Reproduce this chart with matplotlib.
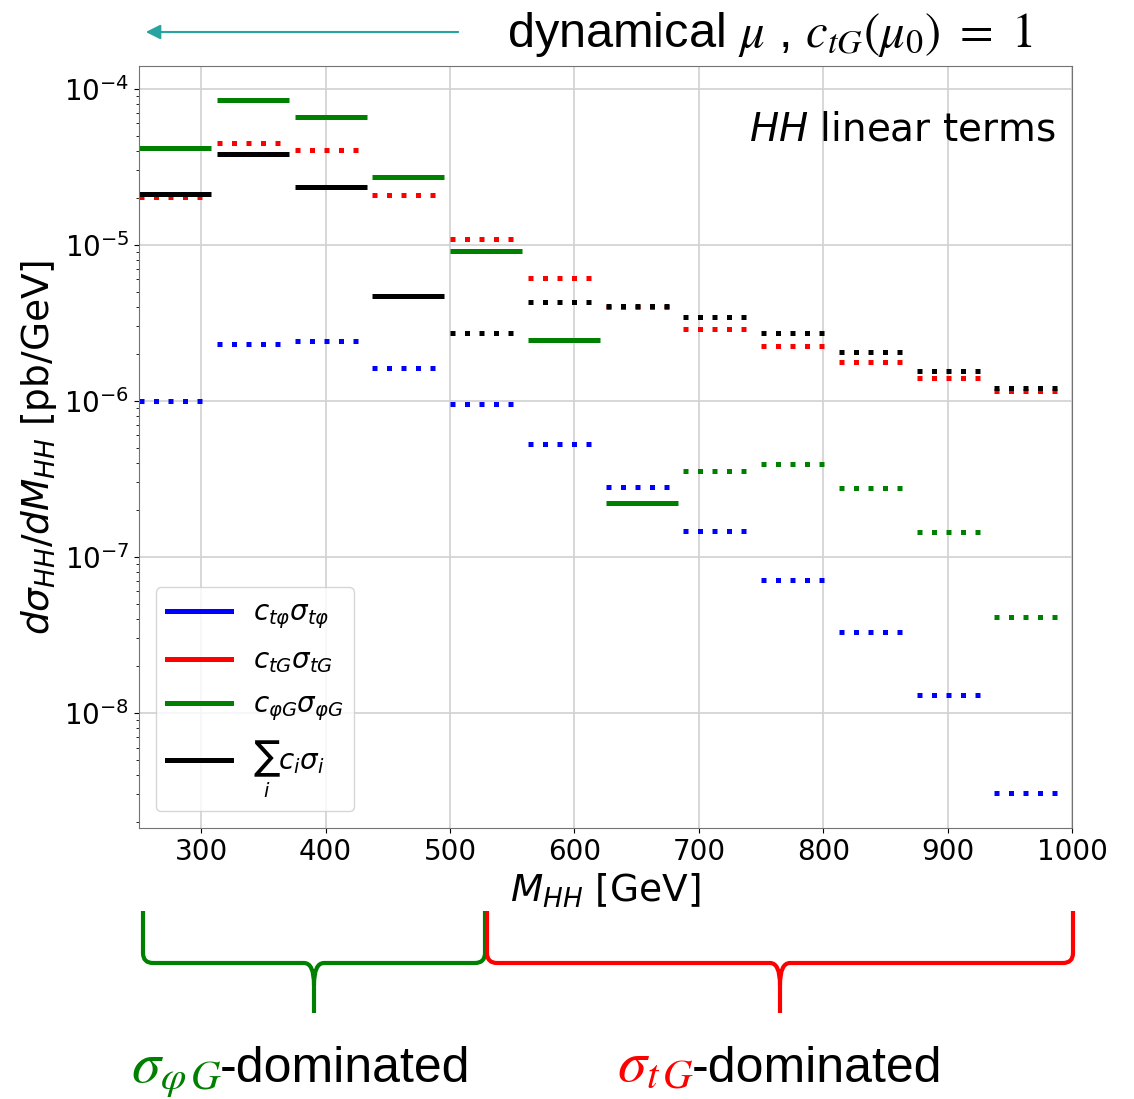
import numpy as np
import matplotlib.pyplot as plt
from matplotlib.lines import Line2D
from matplotlib.path import Path
from matplotlib.patches import PathPatch

# bin edges in M_HH [GeV]
edges = [250, 312.5, 375, 437.5, 500, 562.5, 625, 687.5, 750, 812.5, 875, 937.5, 1000]

# signed linear terms, dsigma/dM_HH [pb/GeV]; negative values drawn dotted
c_tphi = [-1.0e-6, -2.32e-6, -2.41e-6, -1.63e-6, -9.6e-7, -5.25e-7,
          -2.81e-7, -1.47e-7, -7.1e-8, -3.3e-8, -1.30e-8, -3.05e-9]
c_tG = [-2.03e-5, -4.46e-5, -4.02e-5, -2.07e-5, -1.087e-5, -6.17e-6,
        -3.98e-6, -2.88e-6, -2.24e-6, -1.77e-6, -1.40e-6, -1.16e-6]
c_phiG = [4.2e-5, 8.5e-5, 6.62e-5, 2.73e-5, 9.1e-6, 2.46e-6,
          2.21e-7, -3.57e-7, -3.93e-7, -2.78e-7, -1.45e-7, -4.12e-8]
total = [2.12e-5, 3.81e-5, 2.33e-5, 4.71e-6, -2.74e-6, -4.29e-6,
         -4.08e-6, -3.42e-6, -2.72e-6, -2.07e-6, -1.56e-6, -1.20e-6]

series = [c_tphi, c_tG, c_phiG, total]
colors = ['blue', 'red', 'green', 'black']
labels = [r'$c_{t\varphi}\sigma_{t\varphi}$', r'$c_{tG}\sigma_{tG}$',
          r'$c_{\varphi G}\sigma_{\varphi G}$', r'$\sum_i c_i\sigma_i$']

fig = plt.figure(figsize=(11.34, 10.99), dpi=100)
ax = fig.add_axes([0.1226, 0.2466, 0.8228, 0.6934])

lw = 3.6
for vals, col in zip(series, colors):
    for i, v in enumerate(vals):
        lo = edges[i]
        hi = edges[i + 1] - 4.5
        if v > 0:
            ax.plot([lo, hi], [v, v], color=col, lw=lw, solid_capstyle='butt')
        else:
            ax.plot([lo, hi], [-v, -v], color=col, lw=lw,
                    linestyle=(0, (1, 1.9)), dash_capstyle='butt')

ax.set_yscale('log')
ax.set_xlim(250, 1000)
ax.set_ylim(1.83e-9, 1.40e-4)
ax.set_xticks([300, 400, 500, 600, 700, 800, 900, 1000])
ax.grid(True, which='major', color='0.82', lw=1.2)
ax.tick_params(labelsize=20)
for s in ax.spines.values():
    s.set_color('0.45')

ax.set_xlabel(r'$M_{HH}$ [GeV]', fontsize=27)
ax.set_ylabel(r'$d\sigma_{HH}/dM_{HH}$ [pb/GeV]', fontsize=27)
ax.text(0.982, 0.916, r'$HH$ linear terms', transform=ax.transAxes,
        ha='right', va='center', fontsize=28)

handles = [Line2D([], [], color=c, lw=lw) for c in colors]
ax.legend(handles, labels, loc='lower left', fontsize=20, handlelength=2.3,
          handletextpad=0.8, labelspacing=0.55, borderaxespad=0.6)

# overlay in figure pixels for annotations
ov = fig.add_axes([0, 0, 1, 1])
ov.set_xlim(0, 1134)
ov.set_ylim(1099, 0)
ov.axis('off')

ov.annotate('', xy=(143, 32), xytext=(461, 32),
            arrowprops=dict(arrowstyle='-|>', color='#27a3a0', lw=1.5,
                            mutation_scale=22))
ov.text(507, 47, r'dynamical $\mu$ , $c_{tG}(\mu_0)\ =\ 1$', fontsize=35,
        family='Liberation Sans', math_fontfamily='stix', va='baseline')


def brace(x0, x1, ytop, ymid, ytip, color):
    xc = (x0 + x1) / 2
    r = 10
    verts = [(x0, ytop), (x0, ymid - r), (x0, ymid), (x0 + r, ymid),
             (xc - r, ymid), (xc, ymid), (xc, ymid + r + 12),
             (xc, ytip),
             (xc, ymid + r + 12), (xc, ymid), (xc + r, ymid),
             (x1 - r, ymid), (x1, ymid), (x1, ymid - r), (x1, ytop)]
    codes = [Path.MOVETO, Path.LINETO, Path.CURVE3, Path.CURVE3,
             Path.LINETO, Path.CURVE3, Path.CURVE3,
             Path.LINETO,
             Path.MOVETO, Path.CURVE3, Path.CURVE3,
             Path.LINETO, Path.CURVE3, Path.CURVE3, Path.LINETO]
    ov.add_patch(PathPatch(Path(verts, codes), fill=False, edgecolor=color,
                           lw=3, capstyle='butt', joinstyle='round'))


brace(143, 485, 911, 963, 1013, 'green')
brace(487, 1073, 911, 963, 1013, 'red')

ov.text(222, 1082, r'$\sigma_{\varphi\,G}$', color='green', fontsize=42,
        math_fontfamily='stix', ha='right', va='baseline')
ov.text(220, 1082, '-dominated', fontsize=36, family='Liberation Sans',
        ha='left', va='baseline')
ov.text(694, 1082, r'$\sigma_{t\,G}$', color='red', fontsize=42,
        math_fontfamily='stix', ha='right', va='baseline')
ov.text(692, 1082, '-dominated', fontsize=36, family='Liberation Sans',
        ha='left', va='baseline')

fig.savefig('out.png', dpi=100)
